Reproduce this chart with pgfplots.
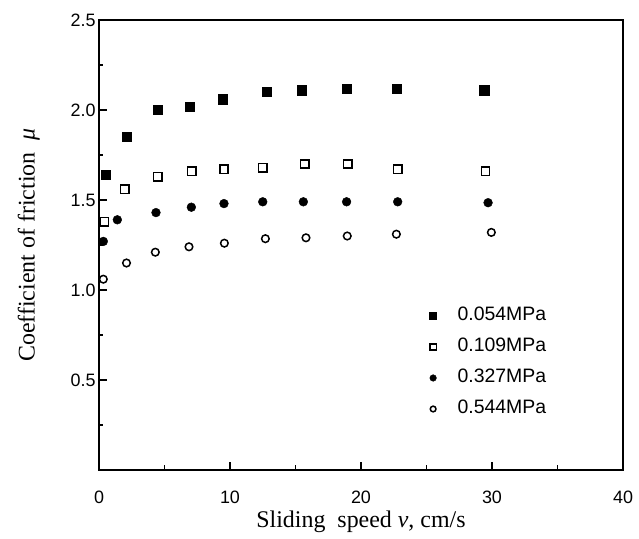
\documentclass[border=0pt]{standalone}
\usepackage{fontspec}
\setmainfont{Liberation Serif}
\newfontfamily\sans{Liberation Sans}
\usepackage{pgfplots}
\pgfplotsset{compat=1.18}
\begin{document}
\begin{tikzpicture}
\useasboundingbox (-99bp,-69bp) rectangle (540bp,470bp);
\begin{axis}[
  scale only axis, width=524bp, height=450bp,
  xmin=0, xmax=40, ymin=0, ymax=2.5,
  xtick={0,10,20,30,40}, minor xtick={5,15,25,35},
  ytick={0.5,1,1.5,2,2.5}, minor ytick={0.25,0.75,1.25,1.75,2.25},
  yticklabel style={/pgf/number format/.cd, fixed, fixed zerofill, precision=1},
  tick align=inside, tick pos=left,
  major tick length=8bp, minor tick length=4.5bp,
  axis line style={line width=1.5bp},
  every tick/.style={black, line width=1.2bp},
  /pgf/number format/assume math mode=true,
  ticklabel style={font=\sans\fontsize{18}{21}\selectfont},
  xticklabel style={yshift=-17bp},
  xlabel={Sliding\enspace speed \textit{v}, cm/s},
  ylabel={Coefficient of friction\enspace \textit{μ}},
  label style={font=\fontsize{24}{28}\selectfont},
  xlabel style={yshift=-1bp},
  ylabel style={yshift=24bp},
  legend style={at={(axis cs:25.0,0.94)}, anchor=north west, draw=none, fill=none,
    font=\sans\fontsize{19.5}{22}\selectfont,
    nodes={inner xsep=2bp, inner ysep=3bp, text height=15bp, text depth=5bp},
    /tikz/row sep=5bp,
    /tikz/every odd column/.append style={column sep=19bp}},
  legend cell align=left,
  legend image code/.code={\draw[#1, every mark/.append style={scale=0.75}] plot coordinates {(0bp,0bp)};},
]
\addplot[only marks, mark=square*, mark size=4.6bp, mark options={fill=black, draw=black}] coordinates {
(0.53,1.64) (2.09,1.85) (4.48,2.00) (6.92,2.02) (9.47,2.06) (12.8,2.10) (15.45,2.11) (18.9,2.12) (22.7,2.12) (29.4,2.11)};
\addlegendentry{0.054MPa}
\addplot[only marks, mark=square, mark size=4.2bp, mark options={draw=black, line width=1.5bp}] coordinates {
(0.4,1.38) (1.98,1.56) (4.48,1.63) (7.07,1.66) (9.54,1.67) (12.5,1.68) (15.7,1.70) (19.0,1.70) (22.8,1.67) (29.5,1.66)};
\addlegendentry{0.109MPa}
\addplot[only marks, mark=*, mark size=4.4bp, mark options={fill=black, draw=black}] coordinates {
(0.33,1.27) (1.4,1.39) (4.35,1.43) (7.05,1.46) (9.54,1.48) (12.5,1.49) (15.6,1.49) (18.9,1.49) (22.8,1.49) (29.7,1.485)};
\addlegendentry{0.327MPa}
\addplot[only marks, mark=o, mark size=3.8bp, mark options={draw=black, line width=1.5bp}] coordinates {
(0.33,1.06) (2.1,1.15) (4.3,1.21) (6.87,1.24) (9.57,1.26) (12.7,1.285) (15.8,1.29) (18.95,1.30) (22.7,1.31) (29.95,1.32)};
\addlegendentry{0.544MPa}
\end{axis}
\end{tikzpicture}
\end{document}
